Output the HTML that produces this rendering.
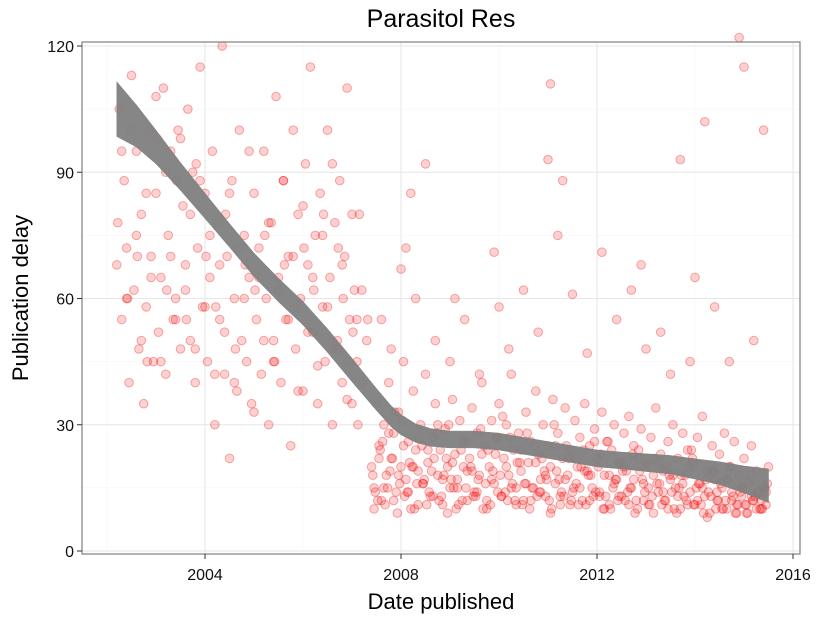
<!DOCTYPE html>
<html><head><meta charset="utf-8"><style>
body{margin:0;background:#fff;}
svg text{font-family:"Liberation Sans",sans-serif;}
</style></head><body>
<svg id="chart" width="825" height="618" xmlns="http://www.w3.org/2000/svg">
<text x="441" y="27" font-size="25" text-anchor="middle" fill="#000">Parasitol Res</text>
<rect x="82" y="42" width="718" height="512" fill="#fff"/>
<g id="grid"></g>
<g id="points"></g>
<g id="smooth"></g>
<rect x="82" y="42" width="718" height="512" fill="none" stroke="#7f7f7f" stroke-width="1.2"/>
<g id="axes"></g>
<text x="441" y="609" font-size="22" text-anchor="middle">Date published</text>
<text transform="translate(28,298) rotate(-90)" font-size="22" text-anchor="middle">Publication delay</text>
</svg>
<script>
const xTicks=[2004,2008,2012,2016];
const yTicks=[0,30,60,90,120];
const earlyDates=[2002.2,2002.25,2002.3,2002.35,2002.4,2002.45,2002.5,2002.55,2002.6,2002.65,2002.7,2002.75,2002.8,2002.85,2002.9,2002.95,2003.0,2003.05,2003.1,2003.15,2003.2,2003.25,2003.3,2003.35,2003.4,2003.45,2003.5,2003.55,2003.6,2003.65,2003.7,2003.75,2003.8,2003.85,2003.9,2003.95,2004.0,2004.05,2004.1,2004.15,2004.2,2004.25,2004.3,2004.35,2004.4,2004.45,2004.5,2004.55,2004.6,2004.65,2004.7,2004.75,2004.8,2004.85,2004.9,2004.95,2005.0,2005.05,2005.1,2005.15,2005.2,2005.25,2005.3,2005.35,2005.4,2005.45,2005.5,2005.55,2005.6,2005.65,2005.7,2005.75,2005.8,2005.85,2005.9,2005.95,2006.0,2006.05,2006.1,2006.15,2006.2,2006.25,2006.3,2006.35,2006.4,2006.45,2006.5,2006.55,2006.6,2006.65,2006.7,2006.75,2006.8,2006.85,2006.9,2006.95,2007.0,2007.05,2007.1,2007.15,
2002.22,2002.42,2002.62,2002.82,2003.02,2003.22,2003.42,2003.62,2003.82,2004.02,2004.22,2004.42,2004.62,2004.82,2005.02,2005.22,2005.42,2005.62,2005.82,2006.02,2006.22,2006.42,2006.62,2006.72,2006.82,2006.92,2007.02,2007.12,2007.22,2007.32];
const earlyDelays=[68,105,55,88,72,40,113,62,95,48,80,35,58,100,70,45,85,52,65,110,42,75,95,55,60,100,48,82,68,105,50,90,40,72,115,58,85,45,65,95,30,78,55,120,42,70,22,88,60,38,100,50,75,45,65,35,85,55,72,42,95,60,30,78,50,108,65,40,88,55,70,25,100,48,80,60,38,92,68,115,52,75,35,85,58,45,100,65,30,78,50,88,40,70,110,55,35,62,45,80,
78,60,70,45,98,62,88,55,92,70,58,80,48,68,62,75,45,68,58,72,62,80,48,72,60,45,52,30,40,55];
const early2Dates=[2002.3,2002.4,2002.5,2002.6,2002.7,2002.8,2002.9,2003.0,2003.1,2003.2,2003.3,2003.4,2003.5,2003.6,2003.7,2003.8,2003.9,2004.0,2004.1,2004.2,2004.3,2004.4,2004.5,2004.6,2004.7,2004.8,2004.9,2005.0,2005.1,2005.2,2005.3,2005.4,2005.5,2005.6,2005.7,2005.8,2005.9,2006.0,2006.1,2006.2,2006.3,2006.4,2006.5,2006.6,2006.7,2006.8,2006.9,2007.0,2007.1,2007.2,2007.3];
const early2Delays=[95,60,100,75,50,85,65,108,45,90,70,55,98,62,80,48,88,58,75,42,68,52,85,40,72,60,95,33,65,50,78,45,62,88,55,70,38,82,52,65,44,75,58,92,48,68,36,80,55,62,50];
const denseDates=[2007.40,2007.45,2007.50,2007.55,2007.60,2007.65,2007.70,2007.75,2007.80,2007.85,2007.90,2007.95,2008.00,2008.05,2008.10,2008.15,2008.20,2008.25,2008.30,2008.35,2008.40,2008.45,2008.50,2008.55,2008.60,2008.65,2008.70,2008.75,2008.80,2008.85,2008.90,2008.95,2009.00,2009.05,2009.10,2009.15,2009.20,2009.25,2009.30,2009.35,2009.40,2009.45,2009.50,2009.55,2009.60,2009.65,2009.70,2009.75,2009.80,2009.85,2009.90,2009.95,2010.00,2010.05,2010.10,2010.15,2010.20,2010.25,2010.30,2010.35,2010.40,2010.45,2010.50,2010.55,2010.60,2010.65,2010.70,2010.75,2010.80,2010.85,2010.90,2010.95,2011.00,2011.05,2011.10,2011.15,2011.20,2011.25,2011.30,2011.35,2011.40,2011.45,2011.50,2011.55,2011.60,2011.65,2011.70,2011.75,2011.80,2011.85,2011.90,2011.95,2012.00,2012.05,2012.10,2012.15,2012.20,2012.25,2012.30,2012.35,2012.40,2012.45,2012.50,2012.55,2012.60,2012.65,2012.70,2012.75,2012.80,2012.85,2012.90,2012.95,2013.00,2013.05,2013.10,2013.15,2013.20,2013.25,2013.30,2013.35,2013.40,2013.45,2013.50,2013.55,2013.60,2013.65,2013.70,2013.75,2013.80,2013.85,2013.90,2013.95,2014.00,2014.05,2014.10,2014.15,2014.20,2014.25,2014.30,2014.35,2014.40,2014.45,2014.50,2014.55,2014.60,2014.65,2014.70,2014.75,2014.80,2014.85,2014.90,2014.95,2015.00,2015.05,2015.10,2015.15,2015.20,2015.25,2015.30,2015.35,2015.40,2015.45,2015.50];
const denseDelays=[20,15,35,25,12,30,18,40,22,28,14,33,20,45,17,26,10,38,24,19,30,16,42,21,13,27,35,18,24,11,29,20,15,36,23,17,31,12,26,19,22,34,14,28,18,40,25,12,20,31,16,27,35,13,22,30,18,42,24,15,28,19,12,33,21,26,15,38,23,17,30,13,25,20,36,16,28,11,22,34,18,24,14,31,20,27,12,35,19,25,15,29,22,13,33,18,26,11,24,30,17,21,13,28,19,32,15,25,12,22,29,16,20,11,27,18,34,14,23,19,12,26,17,30,15,22,10,28,18,24,14,21,11,27,16,32,13,19,9,25,17,12,23,15,28,10,20,14,26,11,18,13,22,9,16,25,12,19,14,10,15,11,20];
const lowDates=[2007.45,2007.55,2007.65,2007.75,2007.85,2007.95,2008.05,2008.15,2008.25,2008.35,2008.45,2008.55,2008.65,2008.75,2008.85,2008.95,2009.05,2009.15,2009.25,2009.35,2009.45,2009.55,2009.65,2009.75,2009.85,2009.95,2010.05,2010.15,2010.25,2010.35,2010.45,2010.55,2010.65,2010.75,2010.85,2010.95,2011.05,2011.15,2011.25,2011.35,2011.45,2011.55,2011.65,2011.75,2011.85,2011.95,2012.05,2012.15,2012.25,2012.35,2012.45,2012.55,2012.65,2012.75,2012.85,2012.95,2013.05,2013.15,2013.25,2013.35,2013.45,2013.55,2013.65,2013.75,2013.85,2013.95,2014.05,2014.15,2014.25,2014.35,2014.45,2014.55,2014.65,2014.75,2014.85,2014.95,2015.05,2015.15,2015.25,2015.35,2015.45];
const lowDelays=[10,22,15,28,12,18,25,14,20,11,16,24,13,30,17,9,21,15,26,12,19,14,23,10,17,27,13,20,15,11,24,16,12,21,14,18,9,25,13,17,11,22,15,19,12,26,14,10,18,16,13,20,11,17,24,12,15,9,21,14,10,18,13,16,11,22,12,15,8,19,14,10,17,12,9,15,11,13,10,12,14];
const lowADates=[2007.425,2007.525,2007.625,2007.725,2007.825,2007.925,2008.025,2008.125,2008.225,2008.325,2008.425,2008.525,2008.625,2008.725,2008.825,2008.925,2009.025,2009.125,2009.225,2009.325,2009.425,2009.525,2009.625,2009.725,2009.825,2009.925,2010.025,2010.125,2010.225,2010.325,2010.425,2010.525,2010.625,2010.725,2010.825,2010.925,2011.025,2011.125,2011.225,2011.325,2011.425,2011.525,2011.625,2011.725,2011.825,2011.925,2012.025,2012.125,2012.225,2012.325,2012.425,2012.525,2012.625,2012.725,2012.825,2012.925,2013.025,2013.125,2013.225,2013.325,2013.425,2013.525,2013.625,2013.725,2013.825,2013.925,2014.025,2014.125,2014.225,2014.325,2014.425,2014.525,2014.625,2014.725,2014.825,2014.925,2015.025,2015.125,2015.225,2015.325,2015.425];
const lowADelays=[18,12,26,15,22,9,31,14,20,16,25,11,19,28,13,22,17,10,24,15,20,13,29,16,11,23,18,14,27,12,21,16,10,25,14,19,12,30,17,13,22,15,11,24,18,13,20,10,26,15,12,19,14,23,10,17,21,13,16,11,20,14,9,18,12,24,15,11,17,13,10,16,12,20,9,14,11,18,13,10,15];
const lowBDates=[2007.475,2007.575,2007.675,2007.775,2007.875,2007.975,2008.075,2008.175,2008.275,2008.375,2008.475,2008.575,2008.675,2008.775,2008.875,2008.975,2009.075,2009.175,2009.275,2009.375,2009.475,2009.575,2009.675,2009.775,2009.875,2009.975,2010.075,2010.175,2010.275,2010.375,2010.475,2010.575,2010.675,2010.775,2010.875,2010.975,2011.075,2011.175,2011.275,2011.375,2011.475,2011.575,2011.675,2011.775,2011.875,2011.975,2012.075,2012.175,2012.275,2012.375,2012.475,2012.575,2012.675,2012.775,2012.875,2012.975,2013.075,2013.175,2013.275,2013.375,2013.475,2013.575,2013.675,2013.775,2013.875,2013.975,2014.075,2014.175,2014.275,2014.375,2014.475,2014.575,2014.675,2014.775,2014.875,2014.975,2015.075,2015.175,2015.275,2015.375,2015.475];
const lowBDelays=[14,24,11,19,33,16,13,21,10,27,17,14,22,12,18,30,15,11,20,26,13,17,10,24,19,14,32,12,16,21,11,28,15,13,22,17,10,19,14,25,12,16,20,11,18,14,23,13,10,17,21,12,15,9,19,14,11,22,16,12,18,10,15,13,20,11,16,9,14,19,12,10,17,13,11,15,9,12,14,10,16];
const outDates=[2007.6,2007.8,2008.0,2008.1,2008.3,2008.5,2008.7,2009.0,2009.3,2009.6,2009.9,2010.2,2010.5,2010.8,2011.0,2011.05,2011.2,2011.5,2011.8,2012.1,2012.4,2012.7,2013.0,2013.3,2013.7,2013.9,2014.2,2014.4,2014.7,2014.9,2015.0,2015.2,2015.4,2008.2,2010.0,2012.9,2014.0,2009.1,2011.3,2013.5];
const outDelays=[55,48,67,72,60,92,50,45,55,42,71,48,62,52,93,111,75,61,47,71,55,62,48,52,93,45,102,58,45,122,115,50,100,85,58,68,65,60,88,42];
const smoothYears=[2002.2,2002.6,2003,2003.5,2004,2004.5,2005,2005.5,2006,2006.5,2007,2007.5,2007.8,2008,2008.3,2008.6,2009,2009.5,2010,2010.5,2011,2011.5,2012,2012.5,2013,2013.5,2014,2014.5,2015,2015.5];
const smoothFit=[105,101,96,89,82,75,68,62,56.5,50,43,36,32,30,28,27,26.5,26.5,26,25,24,23,22,21.5,21,20.5,19.5,18.5,17,15.5];
const smoothSe=[6.5,5,4,3.3,3,2.8,2.8,2.8,2.8,2.8,2.8,2.6,2.5,2.4,2.2,2.1,2,2,2,2,2,2,2,2,2.1,2.2,2.4,2.7,3.2,4];

const NS='http://www.w3.org/2000/svg';
const X=v=>205+(v-2004)*49;
const Y=v=>551-v*(505/120);
function mk(t,a,p){const e=document.createElementNS(NS,t);for(const k in a)e.setAttribute(k,a[k]);p.appendChild(e);return e;}
const grid=document.getElementById('grid');
for(let v=2002;v<=2016;v+=2){const l=mk('line',{x1:X(v),x2:X(v),y1:42,y2:554,stroke:v%4==0?'#e6e6e6':'#f3f3f3','stroke-width':v%4==0?1:0.6},grid);

}
for(let v=0;v<=120;v+=15){const l=mk('line',{x1:82,x2:800,y1:Y(v),y2:Y(v),stroke:v%30==0?'#e6e6e6':'#f3f3f3','stroke-width':v%30==0?1:0.6},grid);

}
const pts=document.getElementById('points');
function plot(ds,vs){for(let i=0;i<ds.length;i++){const c=mk('circle',{cx:X(ds[i]),cy:Y(vs[i]),r:4.3,fill:'rgba(255,0,0,0.18)',stroke:'rgba(225,0,0,0.32)','stroke-width':1},pts);

}}
plot(earlyDates,earlyDelays);plot(early2Dates,early2Delays);plot(denseDates,denseDelays);plot(lowDates,lowDelays);plot(lowADates,lowADelays);plot(lowBDates,lowBDelays);plot(outDates,outDelays);
const sm=document.getElementById('smooth');
let up=[],dn=[];
for(let i=0;i<smoothYears.length;i++){up.push(X(smoothYears[i])+','+Y(smoothFit[i]+smoothSe[i]));dn.unshift(X(smoothYears[i])+','+Y(smoothFit[i]-smoothSe[i]));}
const band=mk('polygon',{points:up.concat(dn).join(' '),fill:'#7f7f7f','fill-opacity':0.95,'stroke':'#7f7f7f','stroke-width':0.5,'stroke-linejoin':'round'},sm);


const ax=document.getElementById('axes');
xTicks.forEach(v=>{mk('line',{x1:X(v),x2:X(v),y1:554,y2:559,stroke:'#333'},ax);
const t=mk('text',{x:X(v),y:580,'font-size':16,'text-anchor':'middle',fill:'#111'},ax);t.textContent=v;

});
yTicks.forEach(v=>{mk('line',{x1:77,x2:82,y1:Y(v),y2:Y(v),stroke:'#333'},ax);
const t=mk('text',{x:74,y:Y(v)+6,'font-size':16,'text-anchor':'end',fill:'#111'},ax);t.textContent=v;

});
</script>
</body></html>
